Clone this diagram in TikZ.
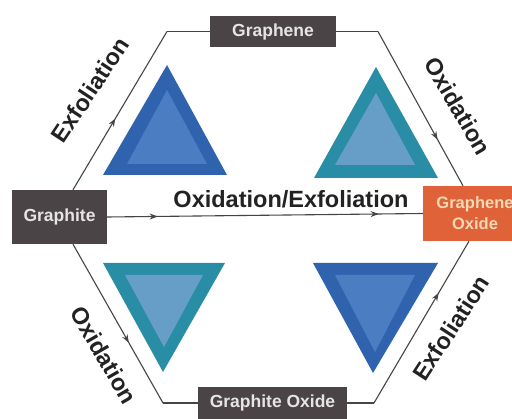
\documentclass[tikz,border=0pt]{standalone}
\usepackage{fontspec}
\setmainfont{Liberation Sans}
\usetikzlibrary{arrows.meta,decorations.markings}
\definecolor{boxdark}{HTML}{4A4446}
\definecolor{boxorange}{HTML}{DF6239}
\definecolor{boxtext}{HTML}{E6E4E4}
\definecolor{orangetext}{HTML}{F2D9B4}
\definecolor{linegray}{HTML}{454545}
\definecolor{blueout}{HTML}{2F63AE}
\definecolor{bluein}{HTML}{4A7DC2}
\definecolor{tealout}{HTML}{2A8DA6}
\definecolor{tealin}{HTML}{679EC7}
\definecolor{labeltext}{HTML}{222222}
\tikzset{
  darkbox/.style={fill=boxdark, text=boxtext, font=\bfseries\fontsize{17.5}{20}\selectfont, inner sep=0pt, anchor=center},
  orangebox/.style={fill=boxorange, text=orangetext, font=\bfseries\fontsize{16.5}{21}\selectfont, inner sep=0pt, align=center},
  conn/.style={draw=linegray, line width=1.1pt},
  arrowat/.style={conn, postaction={decorate}, decoration={markings, mark=at position #1 with {\arrow{Stealth[length=8pt,width=6pt]}}}},
  biglabel/.style={text=labeltext, font=\bfseries\fontsize{23.5}{28}\selectfont, inner sep=0pt}
}
\begin{document}
\begin{tikzpicture}[x=1pt,y=-1pt]
\useasboundingbox (0,0) rectangle (512,419);
\fill[white] (0,0) rectangle (512,419);

% triangles
\fill[blueout] (167,65) -- (103,175) -- (227,175) -- cycle;
\fill[bluein] (167,90) -- (127,164) -- (207,164) -- cycle;
\fill[tealout] (376,67) -- (314,178) -- (438,178) -- cycle;
\fill[tealin] (376,93) -- (335,165) -- (415,165) -- cycle;
\fill[tealout] (103,263) -- (225,263) -- (163,372) -- cycle;
\fill[tealin] (125,275) -- (203,275) -- (164,347) -- cycle;
\fill[blueout] (313,263) -- (438,263) -- (373,373) -- cycle;
\fill[bluein] (335,275) -- (415,275) -- (375,352) -- cycle;

% boxes
\node[darkbox, minimum width=126pt, minimum height=31pt] (graphene) at (273,31.5) {Graphene};
\node[darkbox, minimum width=95pt, minimum height=54pt] (graphite) at (59.5,217) {Graphite};
\node[orangebox, minimum width=104pt, minimum height=55pt] (go) at (475,213.5) {Graphene\\Oxide};
\node[darkbox, minimum width=149pt, minimum height=32pt] (gox) at (272.5,403) {Graphite Oxide};

% bend coordinates
\coordinate (xa) at (73,0);
\coordinate (c1) at (167,31.5);
\coordinate (c2) at (378,31.5);
\coordinate (xb) at (463,0);
\coordinate (c3) at (163,403);
\coordinate (c4) at (374,403);
\coordinate (xc) at (469,0);

% connectors
\draw[arrowat=0.45] (graphite.north -| xa) -- (c1);
\draw[conn] (c1) -- (graphene.west);
\draw[conn] (graphene.east) -- (c2);
\draw[arrowat=0.70] (c2) -- (go.north -| xb);
\draw[arrowat=0.62] (graphite.south -| xa) -- (c3);
\draw[conn] (c3) -- (gox.west);
\draw[conn] (gox.east) -- (c4);
\draw[arrowat=0.68] (c4) -- (go.south -| xc);
\draw[conn, postaction={decorate}, decoration={markings,
  mark=at position 0.16 with {\arrow{Stealth[length=8pt,width=6pt]}},
  mark=at position 0.86 with {\arrow{Stealth[length=8pt,width=6pt]}}}]
  (graphite.east) -- (go.west);

% labels
\node[biglabel] (l0) at (291,199) {Oxidation/Exfoliation};
\node[biglabel, rotate=56.5] (l1) at (90,90) {Exfoliation};
\node[biglabel, rotate=-59.5] (l2) at (458,106) {Oxidation};
\node[biglabel, rotate=-60] (l3) at (104,355) {Oxidation};
\node[biglabel, rotate=57] (l4) at (451,328) {Exfoliation};
\end{tikzpicture}
\end{document}
